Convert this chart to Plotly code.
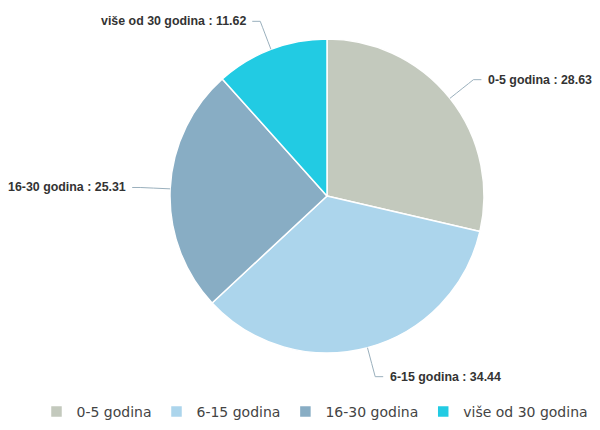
import math
import plotly.graph_objects as go

labels = ["0-5 godina", "6-15 godina", "16-30 godina", "više od 30 godina"]
values = [28.63, 34.44, 25.31, 11.62]
colors = ["#c3c9bd", "#acd5ec", "#88adc4", "#22cbe3"]

W, H = 600, 430
cx, cy, R = 327, 196, 157  # pie centre / radius in pixels
dom_x = [(cx - R) / W, (cx + R) / W]
dom_y = [(H - cy - R) / H, (H - cy + R) / H]

fig = go.Figure(go.Pie(
    labels=labels, values=values, sort=False, direction="clockwise",
    marker=dict(colors=colors, line=dict(color="white", width=1.5)),
    textinfo="none", hoverinfo="label+value",
    domain=dict(x=dom_x, y=dom_y),
))

def px(x, y):
    return x / W, (H - y) / H

total = sum(values)
cum = 0
shapes, annotations = [], []
for lab, v in zip(labels, values):
    mid = (cum + v / 2) / total * 2 * math.pi
    cum += v
    s, c = math.sin(mid), math.cos(mid)
    ex, ey = cx + R * s, cy - R * c
    ox, oy = cx + (R + 30) * s, cy - (R + 30) * c
    right = s >= 0
    hx = ox + (8 if right else -8)
    mx, my = cx + (R + 18) * s, cy - (R + 18) * c
    p0, p1, p2, p3 = px(ex, ey), px(mx, my), px(ox, oy), px(hx, oy)
    shapes.append(dict(
        type="path", xref="paper", yref="paper",
        path=f"M{p0[0]},{p0[1]} Q{p1[0]},{p1[1]} {p2[0]},{p2[1]} L{p3[0]},{p3[1]}",
        line=dict(color="#9ab0bd", width=1)))
    tx, ty = px(hx + (5 if right else -4), oy)
    annotations.append(dict(
        x=tx, y=ty, xref="paper", yref="paper", showarrow=False,
        xanchor="left" if right else "right", yanchor="middle",
        text=f"<b>{lab} : {v:.2f}</b>",
        font=dict(family="Liberation Sans, Arial", size=12.4, color="#333333")))

fig.update_layout(
    width=W, height=H, margin=dict(l=0, r=0, t=0, b=0),
    paper_bgcolor="white", plot_bgcolor="white",
    shapes=shapes, annotations=annotations,
    showlegend=True,
    legend=dict(orientation="h", x=0.525, xanchor="center", y=0.042, yanchor="middle",
                font=dict(family="DejaVu Sans", size=14, color="#444444"),
                itemclick=False, itemdoubleclick=False),
)

fig.write_html("out.html")
